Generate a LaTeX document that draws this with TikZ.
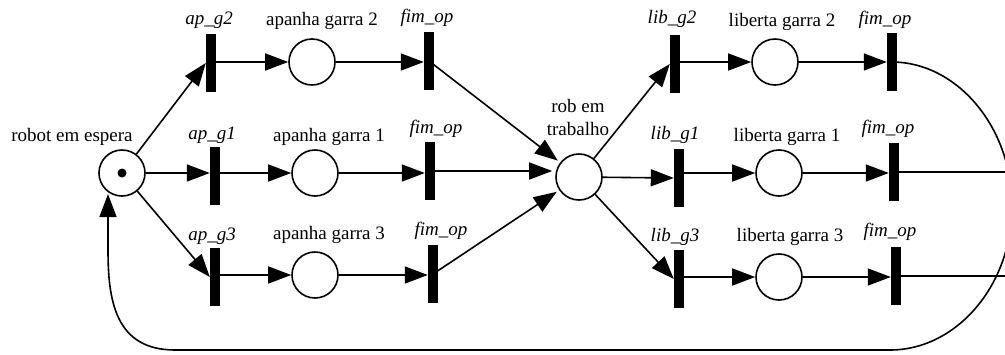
\documentclass[tikz,border=0pt]{standalone}
\usepackage{fontspec}
\setmainfont{Liberation Serif}
\usetikzlibrary{arrows.meta,calc}
\begin{document}
\begin{tikzpicture}[x=1pt,y=-1pt,
  every node/.style={font=\fontsize{19}{23}\selectfont},
  place/.style={circle,draw,line width=1.6pt,minimum size=46pt,inner sep=0pt},
  trans/.style={rectangle,fill=black,minimum width=10pt,minimum height=58pt,inner sep=0pt},
  lbl/.style={inner sep=0pt},
  tl/.style={inner sep=0pt,font=\fontsize{19}{23}\selectfont\itshape},
  arc/.style={line width=1.6pt,-{Triangle[length=23pt,width=17pt]}},
  ln/.style={line width=1.6pt}]
\useasboundingbox (0,0) rectangle (1005,354);
\clip (0,0) rectangle (1005,354);

% places and transitions
\node[place] (robot) at (122,173) {};
\fill (robot.center) circle (4.5pt);
\node[trans] (apg2) at (211,63) {};
\node[trans] (apg1) at (215,176) {};
\node[trans] (apg3) at (215,277) {};
\node[place] (pa2) at (312,62) {};
\node[place] (pa1) at (315,173) {};
\node[place] (pa3) at (315,275) {};
\node[trans] (fo2) at (429,61) {};
\node[trans] (fo1) at (430,171) {};
\node[trans] (fo3) at (433,274) {};
\node[place] (rob) at (579,177) {};
\node[trans] (lg2) at (675,64) {};
\node[trans] (lg1) at (679,178) {};
\node[trans] (lg3) at (679,279) {};
\node[place] (pl2) at (775,62) {};
\node[place] (pl1) at (779,173) {};
\node[place] (pl3) at (779,277) {};
\node[trans] (fl2) at (892,62) {};
\node[trans] (fl1) at (894,172) {};
\node[trans] (fl3) at (896,276) {};

% labels
\node[lbl] (robotl) at (72,137) {robot em espera};
\node[tl] (apg2l) at (209,20) {ap\_g2};
\node[tl] (apg1l) at (212,135) {ap\_g1};
\node[tl] (apg3l) at (212,236) {ap\_g3};
\node[lbl] (pa2l) at (322,21) {apanha garra 2};
\node[lbl] (pa1l) at (329,137) {apanha garra 1};
\node[lbl] (pa3l) at (329,235) {apanha garra 3};
\node[tl] (fo2l) at (427,18) {fim\_op};
\node[tl] (fo1l) at (436,129) {fim\_op};
\node[tl] (fo3l) at (441,231) {fim\_op};
\node[lbl,align=center] (robl) at (578,117) {rob em\\trabalho};
\node[tl] (lg2l) at (672,19) {lib\_g2};
\node[tl] (lg1l) at (675,135) {lib\_g1};
\node[tl] (lg3l) at (675,237) {lib\_g3};
\node[lbl] (pl2l) at (782,22) {liberta garra 2};
\node[lbl] (pl1l) at (787,137) {liberta garra 1};
\node[lbl] (pl3l) at (790,237) {liberta garra 3};
\node[tl] (fl2l) at (885,20) {fim\_op};
\node[tl] (fl1l) at (888,129) {fim\_op};
\node[tl] (fl3l) at (890,232) {fim\_op};

% arcs
\draw[arc] (robot) -- (apg2.west);
\draw[arc] (robot) -- (robot -| apg1.west);
\draw[arc] (robot) -- (apg3.west);
\draw[arc] (apg2.center |- pa2) -- (pa2);
\draw[arc] (apg1.center |- pa1) -- (pa1);
\draw[arc] (apg3.center |- pa3) -- (pa3);
\draw[arc] (pa2) -- (pa2 -| fo2.west);
\draw[arc] (pa1) -- (pa1 -| fo1.west);
\draw[arc] (pa3) -- (pa3 -| fo3.west);
\draw[arc,shorten >=3pt] (fo2.center) -- (rob);
\draw[arc,shorten >=3pt] (fo1.center) -- (fo1.center -| rob.west);
\draw[arc,shorten >=3pt] (fo3.center) -- (rob);
\draw[arc] (rob) -- (lg2.west);
\draw[arc] (rob) -- (lg1.west);
\draw[arc] (rob) -- (lg3.west);
\draw[arc] (lg2.center |- pl2) -- (pl2);
\draw[arc] (lg1.center |- pl1) -- (pl1);
\draw[arc] (lg3.center |- pl3) -- (pl3);
\draw[arc] (pl2) -- (pl2 -| fl2.west);
\draw[arc] (pl1) -- (pl1 -| fl1.west);
\draw[arc] (pl3) -- (pl3 -| fl3.west);

% right side and return
\coordinate (edge) at (1012,206);
\coordinate (rc) at (108,250);
\draw[ln] (fl1.center) -- (fl1.center -| edge);
\draw[ln] (fl3.center) -- (fl3.center -| edge);
\draw[arc] (fl2.center) .. controls (956,62) and (1012,126) .. (edge)
  .. controls (1012,286) and (956,350) .. (890,350) -- (175,350)
  .. controls (115,350) and (108,300) .. (rc) -- (rc |- robot.242);
\end{tikzpicture}
\end{document}
